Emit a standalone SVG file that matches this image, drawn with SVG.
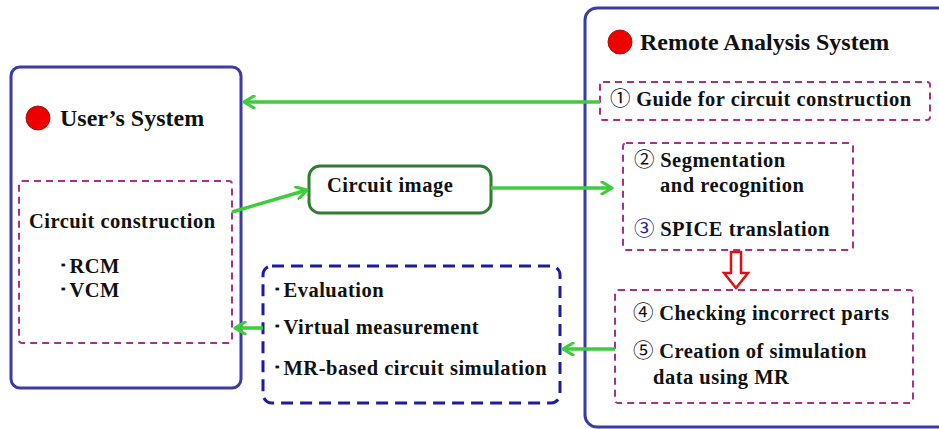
<svg xmlns="http://www.w3.org/2000/svg" width="939" height="429" viewBox="0 0 939 429">
  <style>
    .sys { fill: #ffffff; stroke: #3b3ba8; stroke-width: 3; }
    .pink { fill: none; stroke: #a8308c; stroke-width: 2; stroke-dasharray: 7 5; }
    .navy { fill: none; stroke: #1c1ca0; stroke-width: 3; stroke-dasharray: 12 7; }
    .img { fill: #ffffff; stroke: #2e7d32; stroke-width: 3; }
    .t { font-family: "Liberation Serif", "Times New Roman", serif; font-weight: bold; fill: #111111; }
    .h { font-size: 24px; }
    .b { font-size: 20.5px; letter-spacing: 0.5px; }
    .n { font-family: "Noto Sans CJK JP", "DejaVu Sans", sans-serif; font-weight: normal; letter-spacing: 0; }
    .flow { fill: none; stroke: #3ccc3c; stroke-width: 3.5; marker-end: url(#chev); }
    .dot { fill: #ee0000; stroke: #aa1010; stroke-width: 1; }
  </style>
  <defs>
    <marker id="chev" viewBox="0 0 14 14" refX="12" refY="7" markerWidth="14" markerHeight="14" markerUnits="userSpaceOnUse" orient="auto">
      <polyline points="2,1 12,7 2,13" fill="none" stroke="#3ccc3c" stroke-width="3.2" stroke-linecap="round" stroke-linejoin="round"/>
    </marker>
  </defs>

  <rect width="939" height="429" fill="#ffffff"/>

  <!-- user side -->
  <g id="users-system">
    <rect class="sys" x="11" y="67" width="230" height="321" rx="9"/>
    <circle class="dot" cx="38" cy="118" r="12"/>
    <text class="t h" x="60" y="126">User’s System</text>
  </g>
  <g id="circuit-construction">
    <rect class="pink" x="19" y="181" width="213" height="162" rx="3"/>
    <text class="t b" x="29" y="228">Circuit construction</text>
    <text class="t b" x="58" y="273">･RCM</text>
    <text class="t b" x="58" y="297">･VCM</text>
  </g>

  <!-- remote side -->
  <g id="remote-analysis-system">
    <rect class="sys" x="585" y="8" width="380" height="419" rx="12"/>
    <circle class="dot" cx="620" cy="42" r="12"/>
    <text class="t h" x="640" y="50">Remote Analysis System</text>
  </g>
  <g id="guide">
    <rect class="pink" x="600" y="82" width="330" height="38" rx="3"/>
    <text class="t b" x="610" y="106"><tspan class="n">①</tspan> Guide for circuit construction</text>
  </g>
  <g id="recognition">
    <rect class="pink" x="623" y="143" width="230" height="107" rx="3"/>
    <text class="t b" x="634" y="167"><tspan class="n">②</tspan> Segmentation</text>
    <text class="t b" x="660" y="192">and recognition</text>
    <text class="t b" x="634" y="236"><tspan class="n" fill="#1c1ca0">③</tspan> SPICE translation</text>
  </g>
  <g id="simulation-data">
    <rect class="pink" x="615" y="290" width="298" height="113" rx="3"/>
    <text class="t b" x="633" y="320"><tspan class="n">④</tspan> Checking incorrect parts</text>
    <text class="t b" x="633" y="358"><tspan class="n">⑤</tspan> Creation of simulation</text>
    <text class="t b" x="653" y="384">data using MR</text>
  </g>

  <!-- middle -->
  <g id="circuit-image">
    <rect class="img" x="309" y="166" width="182" height="47" rx="11"/>
    <text class="t b" x="327" y="192">Circuit image</text>
  </g>
  <g id="results">
    <rect class="navy" x="263" y="266" width="297" height="137" rx="9"/>
    <text class="t b" x="272" y="297">･Evaluation</text>
    <text class="t b" x="272" y="334">･Virtual measurement</text>
    <text class="t b" x="272" y="375">･MR-based circuit simulation</text>
  </g>

  <!-- connectors -->
  <g id="connectors">
    <line class="flow" x1="600" y1="102" x2="244" y2="102"/>
    <line class="flow" x1="232" y1="212" x2="307" y2="190"/>
    <line class="flow" x1="491" y1="188" x2="612" y2="188"/>
    <line class="flow" x1="263" y1="328" x2="235" y2="328"/>
    <line class="flow" x1="615" y1="349" x2="563" y2="349"/>
    <path d="M731,252 H741 V273 H748 L736,288 L724,273 H731 Z" fill="#ffffff" stroke="#e01010" stroke-width="2.5" stroke-linejoin="miter"/>
  </g>
</svg>
